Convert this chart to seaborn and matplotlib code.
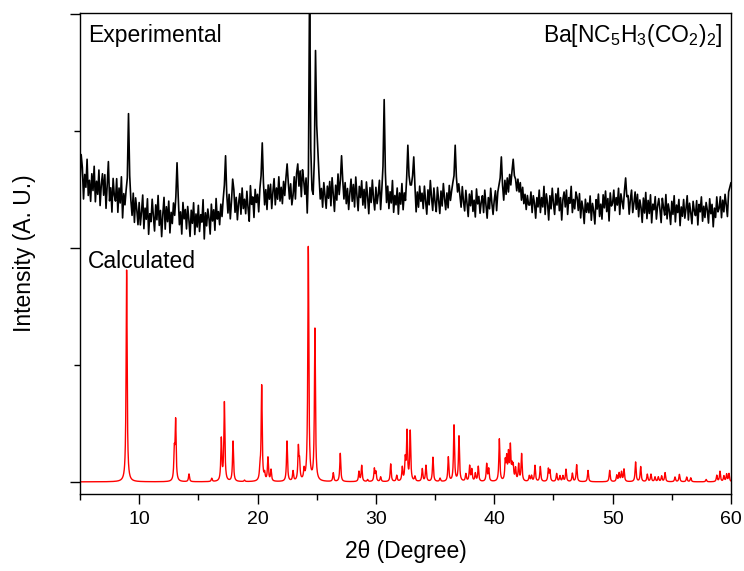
import numpy as np
import pandas as pd
import matplotlib
matplotlib.use('Agg')
import matplotlib.pyplot as plt
from matplotlib.ticker import MultipleLocator
import seaborn as sns

# Experimental pattern at 0.1 degree steps (5.0 ... 60.0)
exp_start, exp_step = 5.0, 0.1
exp_intensity = [
    2550, 2800, 2690, 2420, 2630, 2520, 2760, 2450, 2580, 2400,   # 5
    2636, 2492, 2700, 2396, 2572, 2460, 2668, 2364, 2540, 2636,   # 6
    2452, 2628, 2340, 2532, 2740, 2404, 2516, 2308, 2596, 2452,   # 7
    2402, 2594, 2306, 2514, 2386, 2610, 2258, 2466, 2370, 2498,   # 8
    2600, 3150, 2620, 2410, 2280, 2470, 2220, 2430, 2330, 2200,   # 9
    2390, 2198, 2310, 2454, 2166, 2342, 2246, 2422, 2118, 2294,   # 10
    2226, 2418, 2274, 2146, 2370, 2242, 2450, 2194, 2322, 2098,   # 11
    2290, 2434, 2162, 2354, 2226, 2402, 2130, 2306, 2210, 2386,   # 12
    2280, 2440, 2730, 2440, 2200, 2310, 2120, 2390, 2250, 2330,   # 13
    2164, 2356, 2244, 2100, 2324, 2212, 2388, 2116, 2292, 2180,   # 14
    2366, 2142, 2286, 2222, 2414, 2078, 2302, 2190, 2334, 2254,   # 15
    2120, 2376, 2232, 2328, 2152, 2424, 2248, 2312, 2200, 2376,   # 16
    2270, 2420, 2540, 2790, 2460, 2300, 2460, 2250, 2400, 2590,   # 17
    2500, 2306, 2434, 2242, 2386, 2466, 2290, 2514, 2338, 2418,   # 18
    2294, 2486, 2342, 2230, 2534, 2374, 2438, 2262, 2502, 2390,   # 19
    2460, 2310, 2510, 2620, 2900, 2560, 2370, 2500, 2330, 2540,   # 20
    2418, 2546, 2338, 2482, 2594, 2370, 2514, 2418, 2610, 2402,   # 21
    2520, 2380, 2570, 2450, 2600, 2720, 2560, 2420, 2550, 2370,   # 22
    2450, 2610, 2420, 2640, 2720, 2530, 2660, 2440, 2670, 2580,   # 23
    2460, 2600, 2300, 2640, 4300, 2850, 2500, 2460, 2760, 3690,   # 24
    3050, 2820, 2610, 2420, 2510, 2350, 2560, 2450, 2340, 2530,   # 25
    2426, 2570, 2362, 2602, 2458, 2314, 2538, 2410, 2634, 2458,   # 26
    2580, 2790, 2580, 2420, 2560, 2380, 2510, 2330, 2470, 2590,   # 27
    2400, 2544, 2352, 2608, 2448, 2320, 2528, 2432, 2576, 2368,   # 28
    2502, 2342, 2566, 2438, 2294, 2518, 2390, 2582, 2422, 2326,   # 29
    2520, 2380, 2460, 2580, 2330, 2500, 2700, 3270, 2650, 2390,   # 30
    2530, 2338, 2482, 2386, 2578, 2306, 2450, 2370, 2514, 2290,   # 31
    2472, 2376, 2552, 2328, 2472, 2408, 2600, 2880, 2620, 2540,   # 32
    2540, 2620, 2780, 2530, 2310, 2480, 2350, 2530, 2400, 2470,   # 33
    2338, 2530, 2402, 2290, 2498, 2370, 2578, 2434, 2322, 2514,   # 34
    2392, 2312, 2520, 2408, 2296, 2488, 2360, 2552, 2424, 2328,   # 35
    2472, 2344, 2536, 2408, 2490, 2560, 2620, 2880, 2610, 2480,   # 36
    2550, 2446, 2350, 2526, 2398, 2318, 2494, 2382, 2270, 2462,   # 37
    2362, 2490, 2314, 2410, 2266, 2506, 2378, 2442, 2298, 2394,   # 38
    2448, 2304, 2496, 2368, 2256, 2432, 2336, 2512, 2384, 2288,   # 39
    2410, 2490, 2320, 2480, 2540, 2600, 2780, 2540, 2410, 2580,   # 40
    2460, 2600, 2480, 2630, 2540, 2660, 2760, 2620, 2590, 2490,   # 41
    2590, 2480, 2560, 2410, 2520, 2380, 2460, 2330, 2450, 2370,   # 42
    2368, 2480, 2304, 2448, 2384, 2256, 2432, 2352, 2496, 2304,   # 43
    2432, 2352, 2528, 2288, 2464, 2384, 2240, 2448, 2336, 2512,   # 44
    2384, 2288, 2464, 2368, 2512, 2320, 2432, 2240, 2416, 2480,   # 45
    2352, 2496, 2288, 2432, 2384, 2528, 2304, 2416, 2336, 2480,   # 46
    2434, 2322, 2466, 2258, 2402, 2338, 2210, 2418, 2306, 2386,   # 47
    2302, 2446, 2238, 2382, 2318, 2206, 2414, 2334, 2462, 2270,   # 48
    2376, 2248, 2456, 2344, 2488, 2312, 2424, 2232, 2472, 2360,   # 49
    2384, 2496, 2320, 2432, 2368, 2512, 2288, 2464, 2400, 2336,   # 50
    2490, 2600, 2440, 2450, 2290, 2416, 2496, 2304, 2384, 2480,   # 51
    2332, 2460, 2268, 2412, 2348, 2220, 2428, 2300, 2476, 2252,   # 52
    2408, 2296, 2456, 2216, 2376, 2328, 2440, 2248, 2360, 2424,   # 53
    2330, 2218, 2426, 2346, 2282, 2458, 2250, 2378, 2314, 2202,   # 54
    2400, 2288, 2448, 2224, 2368, 2304, 2416, 2192, 2352, 2272,   # 55
    2416, 2256, 2336, 2448, 2240, 2384, 2304, 2208, 2400, 2320,   # 56
    2278, 2406, 2198, 2374, 2310, 2438, 2230, 2358, 2262, 2390,   # 57
    2326, 2214, 2422, 2294, 2374, 2182, 2342, 2262, 2438, 2310,   # 58
    2340, 2440, 2260, 2410, 2310, 2460, 2370, 2270, 2480, 2520,   # 59
    2560,                                                         # 60
]

# Calculated pattern: reflection positions (2theta) and peak heights
calc_pos = [8.94, 12.97, 13.08, 14.21, 16.13, 16.94, 17.20, 17.93, 18.90,
            20.21, 20.35, 20.60, 20.88, 21.14, 22.49, 23.00, 23.45, 23.55,
            23.93, 24.29, 24.85, 26.40, 26.99, 28.57, 28.80, 29.30, 29.87,
            30.00, 30.40, 31.25, 31.76, 32.23, 32.48, 32.63, 32.90, 33.30,
            33.92, 34.23, 34.82, 35.42, 36.12, 36.60, 37.02, 37.60, 37.92,
            38.10, 38.40, 38.65, 39.36, 39.53, 40.43, 40.93, 41.05, 41.20,
            41.36, 41.50, 41.60, 41.80, 42.06, 42.31, 42.96, 43.15, 43.44,
            43.89, 44.57, 44.70, 45.27, 45.55, 45.80, 46.06, 46.60, 46.96,
            47.92, 49.75, 50.35, 50.55, 50.75, 50.96, 51.94, 52.37, 52.93,
            53.24, 53.58, 53.86, 54.14, 54.43, 55.27, 55.64, 56.26, 56.60,
            57.90, 58.80, 59.07, 59.40, 59.63, 59.83]
calc_height = [1812, 239, 507, 66, 28, 359, 672, 345, 12,
               97, 815, 57, 200, 97, 345, 85, 279, 150,
               85, 2000, 1299, 74, 242, 85, 137, 17, 108,
               80, 40, 151, 51, 117, 180, 416, 425, 40,
               108, 137, 208, 28, 208, 479, 385, 63, 131,
               100, 68, 128, 148, 105, 362, 162, 182, 219,
               285, 108, 117, 105, 142, 233, 48, 48, 137,
               128, 105, 91, 68, 48, 48, 105, 71, 145,
               97, 97, 54, 71, 80, 105, 168, 128, 63,
               63, 40, 40, 48, 77, 40, 63, 40, 34,
               20, 54, 88, 48, 63, 68]
fwhm = 0.1

exp_x = exp_start + exp_step * np.arange(len(exp_intensity))
exp_df = pd.DataFrame({'two_theta': exp_x, 'intensity': exp_intensity})

# calculated profile: Lorentzian line shape for each reflection
grid = np.arange(5.0, 60.0001, 0.01)
hw = fwhm / 2
prof = np.zeros_like(grid)
for p, h in zip(calc_pos, calc_height):
    prof += h * hw**2 / ((grid - p)**2 + hw**2)
calc_df = pd.DataFrame({'two_theta': grid, 'intensity': prof})

sns.set_style('ticks')
plt.rcParams['font.family'] = ['Liberation Sans', 'DejaVu Sans']
plt.rcParams['mathtext.default'] = 'regular'
plt.rcParams['text.color'] = 'black'
plt.rcParams['axes.labelcolor'] = 'black'
plt.rcParams['xtick.color'] = 'black'
plt.rcParams['ytick.color'] = 'black'

fig = plt.figure(figsize=(7.44, 5.71), dpi=100)
ax = fig.add_axes([0.1075, 0.135, 0.875, 0.842])

sns.lineplot(data=exp_df, x='two_theta', y='intensity', color='black',
             linewidth=1.2, ax=ax)
sns.lineplot(data=calc_df, x='two_theta', y='intensity', color='red',
             linewidth=1.0, ax=ax)

ax.set_xlim(5, 60)
ax.set_ylim(-103, 4010)
ax.xaxis.set_major_locator(MultipleLocator(10))
ax.xaxis.set_minor_locator(MultipleLocator(5))
ax.yaxis.set_major_locator(MultipleLocator(2000))
ax.yaxis.set_minor_locator(MultipleLocator(1000))
ax.tick_params(axis='both', which='major', direction='out', length=7,
               width=1, labelsize=14, pad=5)
ax.tick_params(axis='both', which='minor', direction='out', length=4,
               width=1)
ax.tick_params(axis='y', which='both', labelleft=False)
for s in ax.spines.values():
    s.set_linewidth(1.0)
    s.set_color('black')

ax.set_xlabel('2θ (Degree)', fontsize=16.5, labelpad=9)
ax.set_ylabel('Intensity (A. U.)', fontsize=16.5, labelpad=25)

ax.text(0.012, 0.94, 'Experimental', transform=ax.transAxes, fontsize=16.5,
        va='baseline', ha='left')
ax.text(0.012, 0.47, 'Calculated', transform=ax.transAxes, fontsize=16.5,
        va='baseline', ha='left')
ax.text(0.986, 0.94, r'Ba[NC$_5$H$_3$(CO$_2$)$_2$]', transform=ax.transAxes,
        fontsize=16.5, va='baseline', ha='right')

fig.savefig('out.png', dpi=100)
